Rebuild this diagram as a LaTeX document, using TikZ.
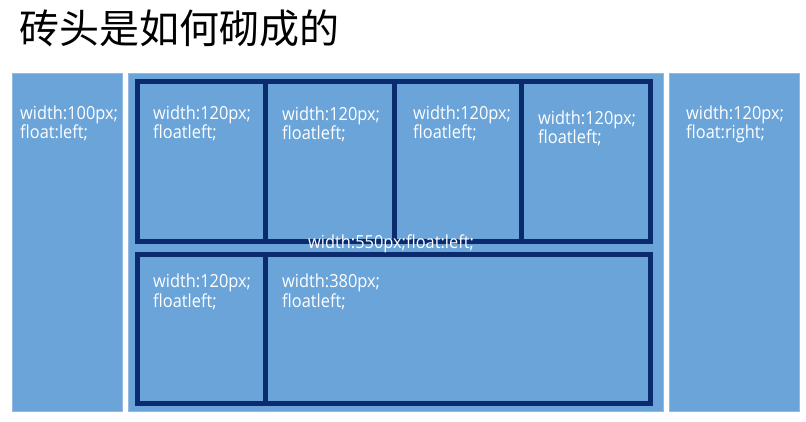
\documentclass[tikz,border=0pt]{standalone}
\usepackage{fontspec}
\setmainfont{Open Sans}[FakeStretch=0.91]
\newfontfamily\cjk{Noto Sans CJK SC}
\definecolor{brickblue}{RGB}{106,164,217}
\definecolor{mortar}{RGB}{12,42,110}
\definecolor{rim}{RGB}{150,185,225}

\begin{document}
\begin{tikzpicture}[x=1pt, y=-1pt,
		box/.style={fill=brickblue, draw=rim, line width=0.8pt},
		cell/.style={fill=brickblue, draw=mortar, line width=5pt, line join=miter},
		txt/.style={anchor=base west, inner sep=0pt, align=left, text=white,
			font=\fontsize{18}{18}\selectfont}]
		\useasboundingbox (0,0) rectangle (806,422);

		\node [anchor=west, inner sep=0pt, font=\cjk\fontsize{40}{40}\selectfont] (title) at (19,28) {砖头是如何砌成的};

		% outer columns
		\path[box] (12,73) rectangle (122,411);
		\path[box] (128,73) rectangle (663,411);
		\path[box] (669,73) rectangle (799,411);

		% upper row
		\path[cell] (137.5,81.5) rectangle (265.5,241.5);
		\path[cell] (265.5,81.5) rectangle (394.5,241.5);
		\path[cell] (394.5,81.5) rectangle (521.5,241.5);
		\path[cell] (521.5,81.5) rectangle (650.5,241.5);

		% lower row
		\path[cell] (137.5,254.5) rectangle (265.5,403.5);
		\path[cell] (265.5,254.5) rectangle (650.5,403.5);

		\node [txt] (left)  at (20,139)  {width:100px;\\float:left;};
		\node [txt] (right) at (686,139) {width:120px;\\float:right;};
		\node [txt] (up1)   at (153,139) {width:120px;\\floatleft;};
		\node [txt] (up2)   at (282,140) {width:120px;\\floatleft;};
		\node [txt] (up3)   at (413,139) {width:120px;\\floatleft;};
		\node [txt] (up4)   at (538,144) {width:120px;\\floatleft;};
		\node [txt] (low1)  at (153,307) {width:120px;\\floatleft;};
		\node [txt] (low2)  at (282,307) {width:380px;\\floatleft;};
		\node [txt] (wrap)  at (308,248) {width:550px;float:left;};
	\end{tikzpicture}
\end{document}
